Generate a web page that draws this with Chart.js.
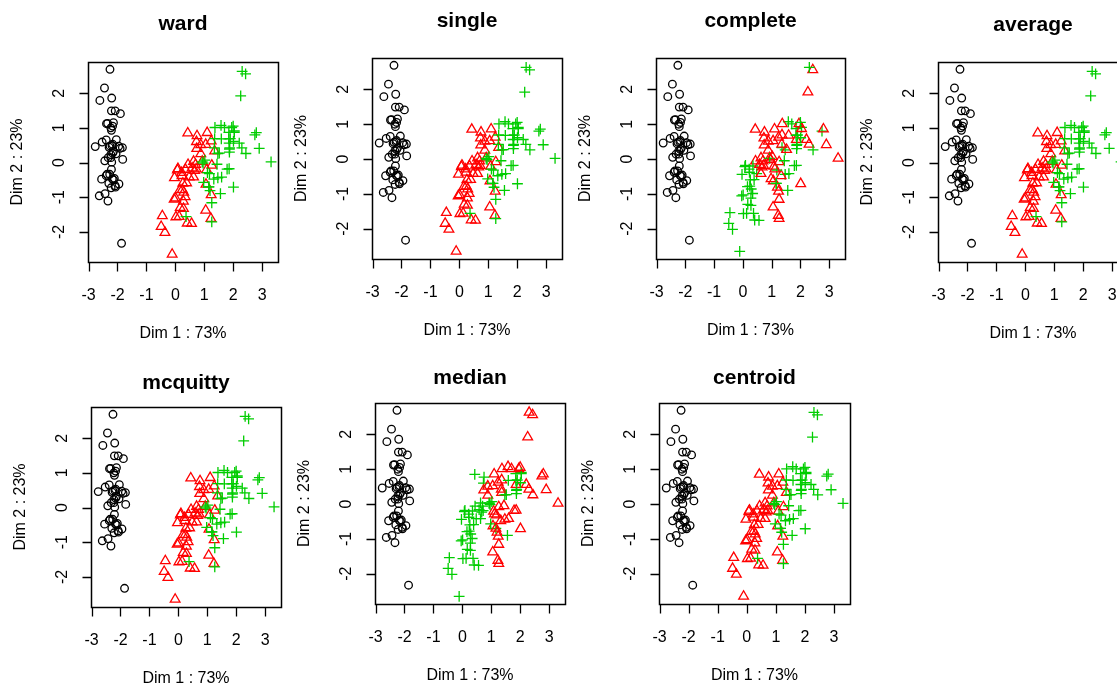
<!DOCTYPE html>
<html>
<head>
<meta charset="utf-8">
<script src="https://cdn.jsdelivr.net/npm/chart.js@4.4.1/dist/chart.umd.min.js"></script>
<style>
html, body { margin: 0; padding: 0; background: #fff; }
#page { position: relative; width: 1117px; height: 686px; overflow: hidden; background: #fff; }
#page canvas { position: absolute; }
</style>
</head>
<body>
<div id="page"></div>
<script>
// axis ticks and limits (R adds 4% to the data range)
var xTicks = [-3, -2, -1, 0, 1, 2, 3];
var yTicks = [-2, -1, 0, 1, 2];
var xLim = [-3.02, 3.55];
var yLim = [-2.87, 2.90];
var xTitle = 'Dim 1 : 73%';
var yTitle = 'Dim 2 : 23%';

// individual coordinates on the first two dimensions (150 flowers)
var dim1 = [
	-2.26, -2.08, -2.36, -2.30, -2.39, -2.08, -2.44, -2.23, -2.33, -2.18,
	-2.17, -2.32, -2.22, -2.63, -2.20, -2.26, -2.21, -2.19, -1.90, -2.34,
	-1.91, -2.21, -2.77, -1.82, -2.23, -1.95, -2.05, -2.17, -2.14, -2.27,
	-2.14, -1.83, -2.61, -2.45, -2.11, -2.21, -2.04, -2.53, -2.43, -2.17,
	-2.29, -1.86, -2.55, -1.96, -2.14, -2.07, -2.38, -2.39, -2.23, -2.20,
	1.10, 0.73, 1.24, 0.41, 1.08, 0.39, 0.75, -0.49, 0.93, 0.01,
	-0.11, 0.44, 0.56, 0.72, -0.03, 0.88, 0.35, 0.16, 1.23, 0.17,
	0.74, 0.48, 1.24, 0.63, 0.70, 0.88, 1.26, 1.36, 0.67, -0.04,
	0.13, 0.02, 0.24, 1.06, 0.22, 0.43, 1.05, 1.05, 0.07, 0.28,
	0.28, 0.63, 0.34, -0.36, 0.29, 0.09, 0.23, 0.58, -0.45, 0.26,
	1.85, 1.16, 2.21, 1.44, 1.87, 2.75, 0.37, 2.30, 2.01, 2.26,
	1.36, 1.60, 1.88, 1.26, 1.47, 1.59, 1.47, 2.43, 3.31, 1.26,
	2.04, 0.98, 2.90, 1.33, 1.70, 1.95, 1.18, 1.02, 1.79, 1.86,
	2.44, 2.31, 1.86, 1.11, 1.20, 2.80, 1.58, 1.35, 0.93, 1.85,
	2.01, 1.90, 1.16, 2.04, 2.00, 1.87, 1.56, 1.52, 1.37, 0.96
];
var dim2 = [
	0.48, -0.67, -0.34, -0.60, 0.65, 1.49, 0.05, 0.23, -1.11, -0.47,
	1.05, 0.14, -0.73, -0.96, 1.86, 2.69, 1.49, 0.49, 1.41, 1.13,
	0.41, 0.93, 0.46, 0.09, 0.14, -0.62, 0.25, 0.53, 0.32, -0.34,
	-0.50, 0.43, 1.79, 2.15, -0.46, -0.20, 0.66, 0.59, -0.90, 0.27,
	0.44, -2.33, -0.48, 0.47, 1.15, -0.71, 1.12, -0.38, 1.00, 0.01,
	0.86, 0.60, 0.62, -1.75, -0.21, -0.59, 0.77, -1.85, 0.03, -1.03,
	-2.65, -0.06, -1.76, -0.19, -0.44, 0.51, -0.20, -0.79, -1.62, -1.30,
	0.40, -0.42, -0.93, -0.42, -0.06, 0.25, -0.08, 0.33, -0.23, -1.06,
	-1.56, -1.57, -0.78, -0.63, -0.29, 0.85, 0.52, -1.38, -0.22, -1.33,
	-1.12, 0.03, -0.99, -2.02, -0.86, -0.18, -0.38, -0.16, -1.54, -0.60,
	0.87, -0.70, 0.56, -0.05, 0.30, 0.80, -1.56, 0.42, -0.71, 1.92,
	0.69, -0.42, 0.42, -1.16, -0.44, 0.68, 0.26, 2.56, 0.02, -1.71,
	0.91, -0.57, 0.41, -0.48, 1.01, 1.01, -0.32, 0.07, -0.19, 0.56,
	0.26, 2.63, -0.18, -0.29, -0.81, 0.86, 1.07, 0.42, 0.02, 0.68,
	0.61, 0.69, -0.70, 0.87, 1.05, 0.39, -0.90, 0.27, 1.01, -0.02
];

// cluster of each flower, one character per flower
var setosaCl = '1111111111' + '1111111111' + '1111111111' + '1111111111' + '1111111111';
var speciesCl = setosaCl +
	'2222222222' + '2222222222' + '2222222222' + '2222222222' + '2222222222' +
	'3333333333' + '3333333333' + '3333333333' + '3333333333' + '3333333333';
var completeCl = setosaCl +
	'2223232323' + '3232323323' + '2322222323' + '3332322233' + '3233333233' +
	'3323333222' + '2332323222' + '3222323232' + '3332223233' + '3332333222';
var medianCl = setosaCl +
	'2323233333' + '3333323323' + '2323322233' + '3332332233' + '3333333333' +
	'3322323222' + '2232233222' + '3322222322' + '2222222233' + '3323233323';

var methods = ['ward', 'single', 'complete', 'average', 'mcquitty', 'median', 'centroid'];
var clusters = [speciesCl, speciesCl, completeCl, speciesCl, speciesCl, medianCl, speciesCl];

// plot boxes on the page: left, top, right, bottom, title offset
var boxes = [
	[88, 62, 278, 262, 38],
	[372, 58, 562, 259, 37],
	[656, 58, 845, 259, 37],
	[938, 62, 1128, 262, 37],
	[91, 407, 281, 607, 24],
	[375, 403, 565, 604, 25],
	[659, 403, 850, 604, 25]
];

var clColor = { '1': '#000000', '2': '#FF0000', '3': '#00CD00' };
var clStyle = { '1': 'circle', '2': 'triangle', '3': 'cross' };
var clRadius = { '1': 3.8, '2': 5.6, '3': 5.4 };

var PAD_L = 92, PAD_T = 55, PAD_R = 12, PAD_B = 92;
var FONT = '"Liberation Sans", Arial, sans-serif';

var rAxes = {
	id: 'rAxes',
	afterDraw: function(chart, args, opts) {
		var ctx = chart.ctx;
		var a = chart.chartArea;
		var xs = chart.scales.x, ys = chart.scales.y;
		ctx.save();
		ctx.strokeStyle = '#000';
		ctx.fillStyle = '#000';
		ctx.lineWidth = 1.5;
		// box
		ctx.strokeRect(Math.round(a.left) + 0.5, Math.round(a.top) + 0.5,
			Math.round(a.right - a.left), Math.round(a.bottom - a.top));
		var b = Math.round(a.bottom) + 0.5, l = Math.round(a.left) + 0.5;
		// tick marks
		ctx.lineWidth = 1.3;
		ctx.beginPath();
		xTicks.forEach(function(v) {
			var px = Math.round(xs.getPixelForValue(v)) + 0.5;
			ctx.moveTo(px, b); ctx.lineTo(px, b + 9);
		});
		yTicks.forEach(function(v) {
			var py = Math.round(ys.getPixelForValue(v)) + 0.5;
			ctx.moveTo(l, py); ctx.lineTo(l - 9, py);
		});
		ctx.stroke();
		ctx.font = '16px ' + FONT;
		ctx.textAlign = 'center';
		ctx.textBaseline = 'middle';
		xTicks.forEach(function(v) {
			ctx.fillText(String(v), xs.getPixelForValue(v), a.bottom + 34);
		});
		yTicks.forEach(function(v) {
			ctx.save();
			ctx.translate(a.left - 28, ys.getPixelForValue(v));
			ctx.rotate(-Math.PI / 2);
			ctx.fillText(String(v), 0, 0);
			ctx.restore();
		});
		var cx = (a.left + a.right) / 2, cy = (a.top + a.bottom) / 2;
		ctx.fillText(xTitle, cx, a.bottom + 72);
		ctx.save();
		ctx.translate(a.left - 70, cy);
		ctx.rotate(-Math.PI / 2);
		ctx.fillText(yTitle, 0, 0);
		ctx.restore();
		ctx.font = 'bold 21px ' + FONT;
		ctx.fillText(opts.title, cx, a.top - opts.dy);
		ctx.restore();
	}
};

var page = document.getElementById('page');

methods.forEach(function(name, k) {
	var bx = boxes[k];
	var cl = clusters[k];
	var w = (bx[2] - bx[0]) + PAD_L + PAD_R;
	var h = (bx[3] - bx[1]) + PAD_T + PAD_B;
	var canvas = document.createElement('canvas');
	canvas.width = w; canvas.height = h;
	canvas.style.width = w + 'px'; canvas.style.height = h + 'px';
	canvas.style.left = (bx[0] - PAD_L) + 'px';
	canvas.style.top = (bx[1] - PAD_T) + 'px';
	page.appendChild(canvas);

	var pts = [], colors = [], styles = [], radii = [];
	for (var i = 0; i < dim1.length; i++) {
		var c = cl.charAt(i);
		pts.push({ x: dim1[i], y: dim2[i] });
		colors.push(clColor[c]);
		styles.push(clStyle[c]);
		radii.push(clRadius[c]);
	}

	new Chart(canvas, {
		type: 'scatter',
		data: {
			datasets: [{
				label: name,
				data: pts,
				pointStyle: styles,
				pointRadius: radii,
				pointHoverRadius: radii,
				pointBorderColor: colors,
				pointBackgroundColor: 'rgba(0,0,0,0)',
				pointBorderWidth: 1.3,
				showLine: false
			}]
		},
		options: {
			responsive: false,
			animation: false,
			events: [],
			layout: { padding: { left: PAD_L, top: PAD_T, right: PAD_R, bottom: PAD_B } },
			scales: {
				x: { type: 'linear', display: false, min: xLim[0], max: xLim[1] },
				y: { type: 'linear', display: false, min: yLim[0], max: yLim[1] }
			},
			plugins: {
				legend: { display: false },
				tooltip: { enabled: false },
				rAxes: { title: name, dy: bx[4] }
			}
		},
		plugins: [rAxes]
	});
});
</script>
</body>
</html>
